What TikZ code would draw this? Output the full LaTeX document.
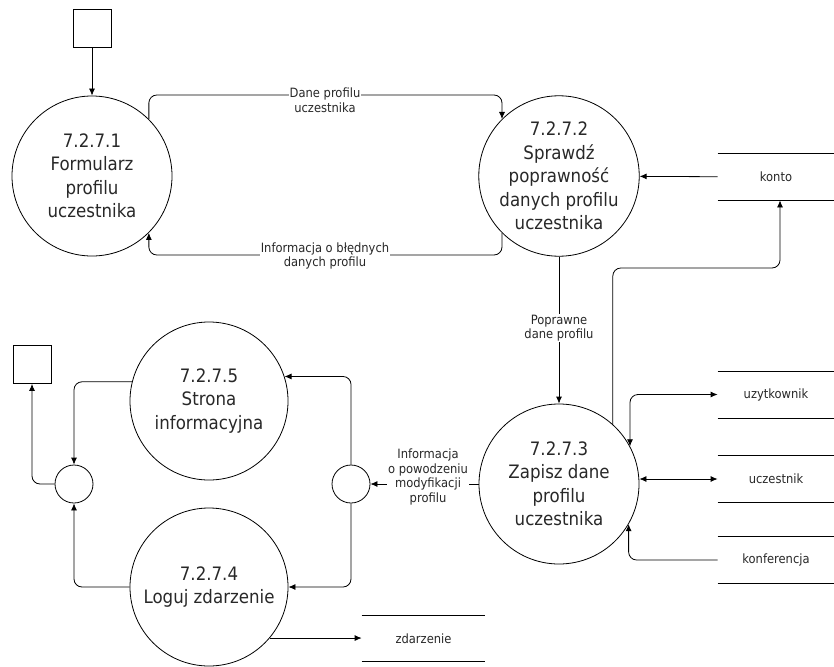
\documentclass[tikz,border=0pt]{standalone}
\usepackage{fontspec}
\setmainfont{DejaVu Sans}[FakeStretch=0.9]
\usetikzlibrary{arrows.meta, positioning}
\newcommand\storelines[1]{\draw (#1.north west) -- (#1.north east) (#1.south west) -- (#1.south east);}
\definecolor{ink}{RGB}{40,40,40}

\begin{document}
\begin{tikzpicture}[x=1pt, y=-1pt, line width=0.8pt, >={Latex[length=7pt,width=6pt]},
  proc/.style={circle, draw, minimum size=160pt, inner sep=0pt, align=center, text=ink, font=\fontsize{18.5}{23.5}\selectfont},
  joint/.style={circle, draw, minimum size=38pt, inner sep=0pt},
  ext/.style={draw, minimum size=38pt, inner sep=0pt},
  store/.style={minimum width=116pt, minimum height=46pt, inner sep=0pt, text=ink, font=\fontsize{12.8}{14.5}\selectfont},
  lbl/.style={fill=white, align=center, inner sep=1pt, text=ink, font=\fontsize{12.8}{14.5}\selectfont},
  flow/.style={->, rounded corners=8pt}]
\useasboundingbox (0,0) rectangle (834,666);

% procesy
\node[proc] (p1) at (92,176) {7.2.7.1\\Formularz\\profilu\\uczestnika};
\node[proc] (p2) at (559,176) {7.2.7.2\\Sprawdź\\poprawność\\danych profilu\\uczestnika};
\node[proc] (p3) at (559,484) {7.2.7.3\\Zapisz dane\\profilu\\uczestnika};
\node[proc, minimum size=158pt] (p5) at (209,401) {7.2.7.5\\Strona\\informacyjna};
\node[proc, minimum size=158pt] (p4) at (209,587) {7.2.7.4\\Loguj zdarzenie};
\node[joint] (j1) at (74,484) {};
\node[joint] (j2) at (351,484) {};
\node[ext] (e1) at (92,28) {};
\node[ext] (e2) at (32,364.5) {};

% magazyny
\node[store] (konto) at (776,177) {konto};
\node[store] (uzytkownik) at (776,394.5) {uzytkownik};
\node[store] (uczestnik) at (776,479) {uczestnik};
\node[store] (konferencja) at (776,560) {konferencja};
\node[store, minimum width=123pt, minimum height=45pt] (zdarzenie) at (423.5,638.5) {zdarzenie};
\storelines{konto}
\storelines{uzytkownik}
\storelines{uczestnik}
\storelines{konferencja}
\storelines{zdarzenie}

% przeplywy
\coordinate (t1) at (325,95);
\coordinate (t2) at (325,255);
\coordinate (t3) at (700,268);
\draw[->] (e1) -- (p1);
\draw[flow] (p1.45) |- (t1) -| (p2.135);
\node[lbl] (l1) at (325,100) {Dane profilu\\uczestnika};
\draw[flow] (p2.225) |- (t2) -| (p1.315);
\node[lbl] (l2) at (325,256) {Informacja o błędnych\\danych profilu};
\draw[->] (konto) -- (p2);
\draw[flow] (p3.48) |- (t3) -| ([xshift=4pt]konto.south);
\draw[->] (p2) -- (p3);
\node[lbl] (l3) at (559,328) {Poprawne\\dane profilu};
\draw[<->, rounded corners=8pt] (uzytkownik.west) -| (p3.28);
\draw[<->] (uczestnik.west) -- (uczestnik.west -| p3.east);
\draw[flow] (konferencja.west) -| (p3.-30);
\draw[->] (p3) -- (j2);
\node[lbl] (l4) at (428,477) {Informacja\\o powodzeniu\\modyfikacji\\profilu};
\draw[flow] (j2.north) |- (p5.18);
\draw[flow] (j2.south) |- (p4.east);
\draw[flow] (p5.166) -| (j1.north);
\draw[flow] (p4.west) -| (j1.south);
\draw[flow] (j1.west) -| (e2.south);
\draw[->] (p4.-40) -- (p4.-40 -| zdarzenie.west);
\end{tikzpicture}
\end{document}
